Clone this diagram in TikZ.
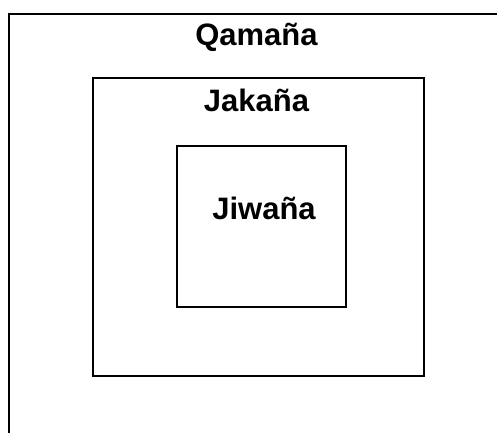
\documentclass[tikz,border=0pt]{standalone}
\usepackage{fontspec}
\setmainfont{Liberation Sans}
\begin{document}
\begin{tikzpicture}[x=1pt,y=-1pt,
  box/.style={draw=black, line width=1.6pt, inner sep=0pt, anchor=north west},
  lbl/.style={font=\bfseries\fontsize{31}{36}\selectfont, anchor=base, inner sep=0pt}]
\useasboundingbox (0,0) rectangle (497,432);
\clip (0,0) rectangle (497,432);
\node[box, minimum width=510pt, minimum height=440pt] (outer) at (8,13) {};
\node[box, minimum width=331pt, minimum height=298pt] (middle) at (92,77) {};
\node[box, minimum width=169pt, minimum height=161pt] (inner) at (176,145) {};
\node[lbl] (q) at (256.5,45) {Qamaña};
\node[lbl] (ja) at (256.5,111) {Jakaña};
\node[lbl] (ji) at (264,219) {Jiwaña};
\end{tikzpicture}
\end{document}
